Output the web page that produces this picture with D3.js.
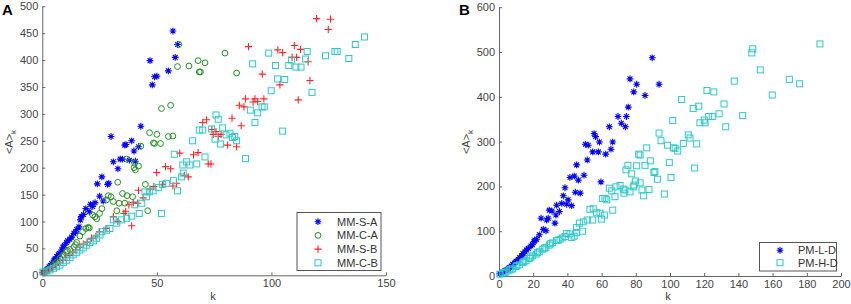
<!DOCTYPE html>
<html><head><meta charset="utf-8">
<script src="https://cdn.jsdelivr.net/npm/d3@7/dist/d3.min.js"></script>
<style>
body{margin:0;background:#fff;}
svg text{font-family:"Liberation Sans",Arial,sans-serif;}
</style></head>
<body><svg id="chart" width="851" height="304"></svg>
<script>
// ---------- DATA (k, <A>_k) ----------
const mmSA = [[57,454],[59,429],[58,405],[47,399],[55,380],[50,370],[49,369],[48,354],[43,277],[30,258],[36.5,243],[36,242],[39,250],[42,239],[40,231],[31,211],[34,216],[35,216],[33,198],[38,214],[40.6,212],[26,183],[24,170],[29,171],[28.5,169],[21,132],[23,135],[25,147],[26.6,138],[19,124],[20.5,118],[17,109],[16.6,103],[16,90],[15,85],[13.8,78],[12.8,71],[12,67],[10.6,61],[9.6,56],[8.5,47],[7.4,41],[6.3,35],[5.1,28],[4.1,22],[3,16],[2,11],[1,6],[0.3,5],[22,128],[18,113],[14.5,80],[11,64],[9,52],[7,38],[5.5,30],[3.5,18],[2.5,13],[1.5,8]];
const mmCA = [[59.6,429],[59,388],[64,389],[68,399],[68.5,378],[79.7,413],[71,395],[69,378],[84.8,376],[52,310],[56,316],[46.8,265],[50,262],[48.5,246],[49,245],[51.6,245],[55,258],[57,259],[43,240],[36.8,216],[40.3,208],[40,200],[40.6,196],[42,203],[32.9,173],[45,169],[35,152],[37,148],[39.4,146],[28.8,148],[30,146],[28,140],[31,137],[33.5,134],[36,134],[32.5,120],[46,120],[26,124],[25,115],[23,109],[23.7,105],[22,112],[20,89],[19,87],[20.5,88],[17.6,81],[16.4,73],[15,61],[13.8,53],[12,48],[10.6,44],[9.2,38],[7.7,32],[6.3,25],[4.8,19],[3.4,13],[2,8],[0.7,6],[14.5,57],[11,46],[8.5,35],[5.5,22],[1.2,7]];
const mmSB = [[119.7,477],[125.8,476],[124.8,457],[90,425],[110,427],[102.8,419],[104.9,414],[112.7,420],[109,405],[111,405],[116,397],[96,374],[116.8,362],[103.7,354],[111.7,326],[88.7,328],[92.8,328],[96.7,328],[92,322],[94,323],[86,316],[88,313],[82.8,292],[71.7,289],[70,284],[86.8,278],[74,271],[75.8,267],[74.6,262],[76.8,258],[78,262],[80.9,242],[84.8,239],[72.4,207],[73.6,207],[68,228],[66,224],[60,227],[53.8,202],[56,198],[49.9,191],[62,186],[63.7,183],[58.6,171],[57,166],[52.5,169],[44,144],[41.6,134],[39.7,135],[37.8,131],[36.4,119],[35.6,115],[39,92],[33,100],[31,109],[27.8,87],[25,81],[23.4,73],[21.5,69],[19.6,62],[17.9,58],[16.4,52],[14.7,47],[13.3,42],[11.8,37],[10.3,33],[8.9,28],[7.4,23],[6,19],[4.5,14],[3,10],[1.6,7],[0.3,5],[42,158],[48.7,165],[47,160]];
const mmCB = [[140.6,443],[136.6,429],[133.8,403],[127.7,416],[128.7,416],[123.6,408],[115.6,416],[114.9,402],[117.7,340],[98.8,413],[91.8,393],[101.8,390],[107.6,390],[110.7,387],[112.9,387],[108.8,400],[102.7,365],[105.8,364],[99.9,343],[95.9,313],[96.9,313],[90.8,307],[94,302],[92.8,284],[104.9,268],[75.8,298],[76.8,290],[78.7,274],[73.9,272],[70,270],[80.2,261],[81.9,264],[83,256],[84,258],[84.8,250],[77.8,244],[75.4,253],[88.7,217],[71,220],[57.6,225],[63,211],[61.3,205],[64.4,205],[67.4,207],[61.5,190],[60.8,183],[57.2,176],[54.3,171],[52.4,169],[50.6,163],[48.4,157],[46.7,155],[44.8,155],[45.5,146],[59,157],[52,115],[40.4,131],[43.4,134],[42.3,115],[39,110],[36.8,106],[34.6,103],[32.5,97],[31,103],[29.5,87],[28,84],[26,81],[25.2,75],[23.7,69],[22.3,64],[20.8,61],[19.4,56],[17.9,51],[16.4,47],[15,42],[13.5,38],[12.1,33],[10.6,28],[9.2,24],[7.7,19],[6.3,16],[4.9,13],[3.4,10],[2,8],[0.3,6],[68.5,270],[65.6,250]];
const pmLD = [[76.6,440],[80.5,428],[78.8,411],[75.6,377],[69.6,356],[74.5,356],[71.5,341],[73.9,333],[64.5,333],[55.6,318],[56.5,311],[58.7,299],[66.5,299],[50.5,294],[52.2,292],[89.6,487],[93.6,428],[85.4,403],[65.5,283],[62.4,272],[59.6,210],[54.8,277],[58.1,277],[51.6,259],[45.4,248],[41.5,220],[44,223],[46.4,214],[49.7,225],[38.6,197],[44.6,187],[47.5,185],[37.6,179],[40.4,170],[42.5,157],[36.7,162],[39.6,160],[29.4,147],[31,145],[33.7,158],[35.3,144],[24.6,129],[33.3,136],[32.7,118],[28.8,129],[27.9,125],[25.9,104],[27.5,101],[23.6,92],[22,82],[20.5,77],[18.7,67],[17.1,62],[15.2,54],[13.3,45],[11.3,37],[9.4,30],[7.4,22],[5.5,16],[3.5,12],[1.6,7],[0.5,5],[21,80],[19.5,70],[16,58],[14,50],[12,41],[10,33],[8,26],[6,19],[4,13],[2.5,9]];
const pmHD = [[187.7,518],[148.4,507],[147.8,498],[152.8,460],[137.6,435],[169.8,439],[175.8,429],[159.8,404],[121.6,414],[125.6,411],[131.6,384],[106.8,394],[113.6,374],[116.8,379],[128.7,362],[122.6,356],[124.7,356],[120,348],[117.5,342],[120.5,342],[142.5,358],[132.6,333],[101.6,347],[93.6,319],[94.7,302],[98.6,292],[110.7,315],[111.7,308],[107.8,296],[115.6,295],[102,286],[86.4,286],[103,285],[104.5,279],[81.7,272],[88.5,257],[99.6,253],[114.4,241],[80.5,246],[85.4,247],[75.4,247],[74.3,237],[77.6,228],[91.2,233],[90.6,231],[92.6,216],[100.6,220],[79.9,212],[82.5,208],[64.5,196],[68.4,199],[70.8,202],[73.7,192],[76.6,188],[78.5,199],[83.6,192],[87.7,193],[84.6,179],[96.7,183],[62,173],[67.8,177],[82.5,270],[79,203],[65.9,190],[72.7,194],[73.1,185],[60.6,173],[63,170],[66.5,147],[55.1,150],[53.2,149],[57.1,141],[59.1,140],[61.6,136],[60,127],[54.8,125],[51.6,125],[49.3,121],[47,118],[48.9,100],[45.4,108],[45.4,97],[39.6,95],[41.5,94],[43.9,89],[42.5,86],[38.6,88],[35.7,82],[33.7,79],[31.4,74],[29.4,69],[27.5,64],[25.6,60],[23.6,54],[21.6,49],[19.7,45],[17.7,39],[15.8,34],[13.9,30],[11.9,25],[9.9,21],[8,16],[6,13],[4.1,9],[2.2,6],[0.5,4],[37,85],[34.5,80],[30,72],[26.5,62],[22.5,52],[18.5,42],[14.5,32],[10.5,23],[7,15],[3,8]];

const ticksAx = [0,50,100,150];
const ticksAy = [0,50,100,150,200,250,300,350,400,450,500];
const ticksBx = [0,20,40,60,80,100,120,140,160,180,200];
const ticksBy = [0,100,200,300,400,500,600];
const legendA = ["MM-S-A","MM-C-A","MM-S-B","MM-C-B"];
const legendB = ["PM-L-D","PM-H-D"];

// ---------- STYLE ----------
const COL = {star:"#0000ff", circle:"#1f8f1f", plus:"#ff2525", square:"#2ec8c8"};
const svg = d3.select("#chart");

function marker(g, type, x, y){
  const c = COL[type];
  if(type==="star"){
    const r=3.4, d=2.4;
    g.append("path").attr("d",`M${x-r},${y}H${x+r}M${x},${y-r}V${y+r}M${x-d},${y-d}L${x+d},${y+d}M${x-d},${y+d}L${x+d},${y-d}`)
     .attr("stroke",c).attr("stroke-width",1.1).attr("fill","none");
  } else if(type==="circle"){
    g.append("circle").attr("cx",x).attr("cy",y).attr("r",2.9).attr("stroke",c).attr("stroke-width",1).attr("fill","none");
  } else if(type==="plus"){
    const r=3.6;
    g.append("path").attr("d",`M${x-r},${y}H${x+r}M${x},${y-r}V${y+r}`).attr("stroke",c).attr("stroke-width",1.1).attr("fill","none");
  } else {
    g.append("rect").attr("x",x-3).attr("y",y-3).attr("width",6).attr("height",6).attr("stroke",c).attr("stroke-width",1).attr("fill","none");
  }
}

function panel(cfg){
  const g = svg.append("g");
  const x = d3.scaleLinear().domain(cfg.xd).range(cfg.xr);
  const y = d3.scaleLinear().domain(cfg.yd).range(cfg.yr);
  const ax = g.append("g").attr("transform",`translate(0,${cfg.yr[0]})`)
    .call(d3.axisBottom(x).tickValues(cfg.xt).tickSizeInner(-3).tickSizeOuter(0).tickPadding(4));
  const ay = g.append("g").attr("transform",`translate(${cfg.xr[0]},0)`)
    .call(d3.axisLeft(y).tickValues(cfg.yt).tickSizeInner(-3).tickSizeOuter(0).tickPadding(4));
  [ax,ay].forEach(a=>{
    a.selectAll("path,line").attr("stroke","#666").attr("stroke-width",1);
    a.selectAll("text").attr("fill","#444").style("font-size","11px");
  });
  cfg.series.forEach(s=>{
    const sg = g.append("g");
    s.data.forEach(d=>marker(sg, s.type, x(d[0]), y(d[1])));
  });
  // axis labels
  g.append("text").attr("x",cfg.klab[0]).attr("y",cfg.klab[1]).attr("text-anchor","middle")
    .attr("fill","#444").style("font-size","11px").text("k");
  const yl = g.append("text").attr("transform",`translate(${cfg.alab[0]},${cfg.alab[1]}) rotate(-90)`)
    .attr("text-anchor","middle").attr("fill","#444").style("font-size","11px");
  yl.append("tspan").text("<A>");
  yl.append("tspan").attr("dy",3).style("font-size","8px").text("k");
  g.append("text").attr("x",cfg.letter[0]).attr("y",cfg.letter[1]).attr("font-weight","bold")
    .style("font-size","15px").attr("fill","#000").text(cfg.letterText);
  // legend
  const L = cfg.legend;
  g.append("rect").attr("x",L.x).attr("y",L.y).attr("width",L.w).attr("height",L.h)
    .attr("fill","#fff").attr("stroke","#555").attr("stroke-width",1);
  L.names.forEach((n,i)=>{
    const yy = L.y0 + i*L.step;
    marker(g, cfg.series[i].type, L.mx, yy);
    g.append("text").attr("x",L.tx).attr("y",yy+4).attr("fill","#333").style("font-size","11px").text(n);
  });
}

panel({
  xd:[0,150], xr:[42.3,386], yd:[0,500], yr:[275.3,6.3], xt:ticksAx, yt:ticksAy,
  series:[{type:"star",data:mmSA},{type:"circle",data:mmCA},{type:"plus",data:mmSB},{type:"square",data:mmCB}],
  klab:[213,300], alab:[13,142], letter:[2,15], letterText:"A",
  legend:{x:297,y:212.5,w:84,h:58,names:legendA,y0:221.7,step:13.7,mx:318,tx:337}
});
panel({
  xd:[0,200], xr:[499,841], yd:[0,600], yr:[276,7.2], xt:ticksBx, yt:ticksBy,
  series:[{type:"star",data:pmLD},{type:"square",data:pmHD}],
  klab:[668,300], alab:[470,142], letter:[459,15], letterText:"B",
  legend:{x:759.5,y:242.5,w:77,h:28.5,names:legendB,y0:250.3,step:12.4,mx:780,tx:798}
});
</script></body></html>
